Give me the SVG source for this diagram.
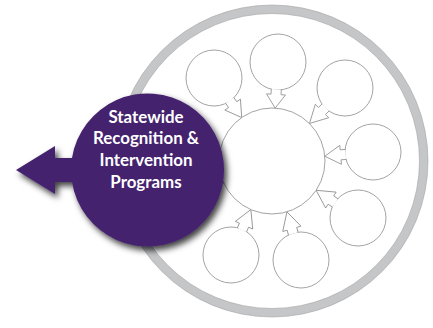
<svg xmlns="http://www.w3.org/2000/svg" width="433" height="328" viewBox="0 0 433 328">
  <style>
    .sat { fill: #ffffff; stroke: #8c8c8c; stroke-width: 0.8; }
    .arr { fill: #ffffff; stroke: #8c8c8c; stroke-width: 0.8; stroke-linejoin: miter; }
    .lbl { font-family: Lato, "Open Sans", "Liberation Sans", sans-serif; font-weight: 700; font-size: 16.9px; fill: #ffffff; text-anchor: middle; }
  </style>
  <defs>
    <filter id="shadow" x="-20%" y="-20%" width="150%" height="150%">
      <feDropShadow dx="3" dy="4" stdDeviation="3" flood-color="#000000" flood-opacity="0.75"/>
    </filter>
  </defs>
  <rect width="433" height="328" fill="#ffffff"/>
  <g id="ring">
    <circle cx="272" cy="161" r="156" fill="#c5c6c8" stroke="#a3a3a5" stroke-width="0.6"/>
    <circle cx="272" cy="161" r="147.5" fill="#ffffff" stroke="#a3a3a5" stroke-width="0.6"/>
  </g>
  <g id="node-1"><circle class="sat" cx="214" cy="78" r="28"/></g>
  <g id="node-2"><circle class="sat" cx="278" cy="62" r="28"/></g>
  <g id="node-3"><circle class="sat" cx="345" cy="88" r="28"/></g>
  <g id="node-4"><circle class="sat" cx="373" cy="152" r="28"/></g>
  <g id="node-5"><circle class="sat" cx="358" cy="218" r="28"/></g>
  <g id="node-6"><circle class="sat" cx="301" cy="260" r="28"/></g>
  <g id="node-7"><circle class="sat" cx="231" cy="255" r="28"/></g>
  <g id="node-8"><circle class="sat" cx="177" cy="204" r="28"/></g>
  <g id="connectors">
    <path class="arr" transform="translate(214 78) rotate(-35)" d="M -5 27.4 L -5 32.5 L -9.5 32.5 L 0 48.3 L 9.5 32.5 L 5 32.5 L 5 27.4"/>
    <path class="arr" transform="translate(278 62) rotate(3.5)" d="M -5 27.4 L -5 32.5 L -9.5 32.5 L 0 46.2 L 9.5 32.5 L 5 32.5 L 5 27.4"/>
    <path class="arr" transform="translate(345 88) rotate(45)" d="M -5 27.4 L -5 32.5 L -9.5 32.5 L 0 50.2 L 9.5 32.5 L 5 32.5 L 5 27.4"/>
    <path class="arr" transform="translate(373 152) rotate(85)" d="M -5 27.4 L -5 32.5 L -9.5 32.5 L 0 48.4 L 9.5 32.5 L 5 32.5 L 5 27.4"/>
    <path class="arr" transform="translate(358 218) rotate(123.5)" d="M -5 27.4 L -5 32.5 L -9.5 32.5 L 0 50.2 L 9.5 32.5 L 5 32.5 L 5 27.4"/>
    <path class="arr" transform="translate(301 260) rotate(163.7)" d="M -5 27.4 L -5 32.5 L -9.5 32.5 L 0 50.2 L 9.5 32.5 L 5 32.5 L 5 27.4"/>
    <path class="arr" transform="translate(231 255) rotate(203.6)" d="M -5 27.4 L -5 32.5 L -9.5 32.5 L 0 49.6 L 9.5 32.5 L 5 32.5 L 5 27.4"/>
    <path class="arr" transform="translate(177 204) rotate(245.6)" d="M -5 27.4 L -5 32.5 L -9.5 32.5 L 0 51.3 L 9.5 32.5 L 5 32.5 L 5 27.4"/>
  </g>
  <g id="hub"><circle class="sat" cx="272" cy="161" r="53"/></g>
  <g id="programs">
    <path filter="url(#shadow)" fill="#45226e" d="M 16 170 L 55 146 L 55 158 L 72 158 A 76.5 76.5 0 1 1 72 182 L 55 182 L 55 194 Z"/>
    <text class="lbl" x="146" y="122.7">Statewide</text>
    <text class="lbl" x="146" y="144.4">Recognition &amp;</text>
    <text class="lbl" x="146" y="166.1">Intervention</text>
    <text class="lbl" x="146" y="188.4">Programs</text>
  </g>
</svg>
